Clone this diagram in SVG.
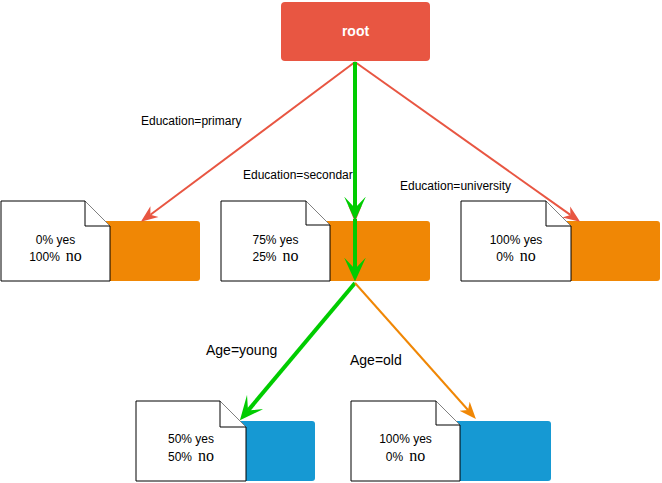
<svg xmlns="http://www.w3.org/2000/svg" width="662" height="483" viewBox="0 0 662 483">
<style>
  .doc { fill: #ffffff; stroke: #000000; stroke-width: 1; }
  .fold { fill: #ffffff; stroke: #000000; stroke-width: 1; stroke-linejoin: miter; }
  .orange { fill: #F08705; }
  .blue { fill: #1699D3; }
  .t { font-family: "Liberation Sans", Arial, sans-serif; font-size: 12px; fill: #000000; text-anchor: middle; }
  tspan.no { font-family: "Liberation Serif", "Times New Roman", serif; font-size: 16px; }
  .lbl { font-family: "Liberation Sans", Arial, sans-serif; font-size: 12px; fill: #000000; }
  .lbl14 { font-family: "Liberation Sans", Arial, sans-serif; font-size: 14px; fill: #000000; }
  .red { stroke: #E85642; stroke-width: 2; fill: none; }
  .green { stroke: #00CC00; stroke-width: 4; fill: none; }
  .orl { stroke: #F08705; stroke-width: 2; fill: none; }
</style>
<defs>
  <marker id="ar" markerUnits="userSpaceOnUse" markerWidth="17" markerHeight="15" viewBox="0 0 15 13" refX="4.5" refY="6.5" orient="auto">
    <path d="M0,0.5 L15,6.5 L0,12.5 L4.5,6.5 z" fill="#E85642"/>
  </marker>
  <marker id="ag" markerUnits="userSpaceOnUse" markerWidth="24" markerHeight="22" viewBox="0 0 21 19" refX="10" refY="9.5" orient="auto">
    <path d="M0,0 L21,9.5 L0,19 L10,9.5 z" fill="#00CC00"/>
  </marker>
  <marker id="ao" markerUnits="userSpaceOnUse" markerWidth="17" markerHeight="15" viewBox="0 0 15 13" refX="4.5" refY="6.5" orient="auto">
    <path d="M0,0.5 L15,6.5 L0,12.5 L4.5,6.5 z" fill="#F08705"/>
  </marker>
</defs>

<g id="root">
  <rect x="281" y="2" width="149" height="59" rx="4" fill="#E85642"/>
  <text x="355.5" y="36" font-family="Liberation Sans, Arial, sans-serif" font-size="14" font-weight="bold" fill="#ffffff" text-anchor="middle">root</text>
</g>

<g id="node-primary">
  <rect class="orange" x="100" y="221" width="100" height="60" rx="3"/>
  <path class="doc" d="M1,201 H85 L110,226 V281 H1 Z"/>
  <path class="fold" d="M85,201 V226 H110"/>
  <text class="t" x="55.5" y="244">0% yes</text>
  <text class="t" x="55.5" y="261">100%<tspan class="no" dx="6" font-family="Liberation Serif, serif">no</tspan></text>
</g>

<g id="node-secondary">
  <rect class="orange" x="320" y="221" width="110" height="60" rx="3"/>
  <path class="doc" d="M221,201 H306 L330,225 V281 H221 Z"/>
  <path class="fold" d="M306,201 V225 H330"/>
  <text class="t" x="275.5" y="244">75% yes</text>
  <text class="t" x="275.5" y="261">25%<tspan class="no" dx="6" font-family="Liberation Serif, serif">no</tspan></text>
</g>

<g id="node-university">
  <rect class="orange" x="561" y="221" width="99" height="60" rx="3"/>
  <path class="doc" d="M461,201 H546 L571,226 V281 H461 Z"/>
  <path class="fold" d="M546,201 V226 H571"/>
  <text class="t" x="516" y="244">100% yes</text>
  <text class="t" x="516" y="261">0%<tspan class="no" dx="6" font-family="Liberation Serif, serif">no</tspan></text>
</g>

<g id="node-young">
  <rect class="blue" x="236" y="421" width="79" height="60" rx="3"/>
  <path class="doc" d="M136,401 H220 L246,427 V481 H136 Z"/>
  <path class="fold" d="M220,401 V427 H246"/>
  <text class="t" x="191" y="443">50% yes</text>
  <text class="t" x="191" y="461">50%<tspan class="no" dx="6" font-family="Liberation Serif, serif">no</tspan></text>
</g>

<g id="node-old">
  <rect class="blue" x="450" y="421" width="101" height="60" rx="3"/>
  <path class="doc" d="M351,401 H436 L460,425 V481 H351 Z"/>
  <path class="fold" d="M436,401 V425 H460"/>
  <text class="t" x="405.5" y="443">100% yes</text>
  <text class="t" x="405.5" y="461">0%<tspan class="no" dx="6" font-family="Liberation Serif, serif">no</tspan></text>
</g>

<g id="connectors">
  <text class="lbl" x="141" y="125">Education=primary</text>
  <text class="lbl" x="243" y="179">Education=secondar</text>
  <text class="lbl" x="400" y="190">Education=university</text>
  <text class="lbl14" x="206" y="355">Age=young</text>
  <text class="lbl14" x="350" y="365">Age=old</text>

  <line class="red" x1="355" y1="62" x2="150.4" y2="214.7" marker-end="url(#ar)"/>
  <line class="red" x1="355" y1="62" x2="570.4" y2="214.9" marker-end="url(#ar)"/>
  <line class="red" x1="355" y1="62" x2="355" y2="210.5" marker-end="url(#ar)"/>
  <line class="green" x1="355" y1="62" x2="355" y2="208" marker-end="url(#ag)"/>
  <line class="green" x1="355" y1="219" x2="355" y2="269" marker-end="url(#ag)"/>
  <line class="green" x1="355" y1="283" x2="248" y2="410.6" marker-end="url(#ag)"/>
  <line class="orl" x1="355" y1="283" x2="468" y2="410" marker-end="url(#ao)"/>
</g>
</svg>
